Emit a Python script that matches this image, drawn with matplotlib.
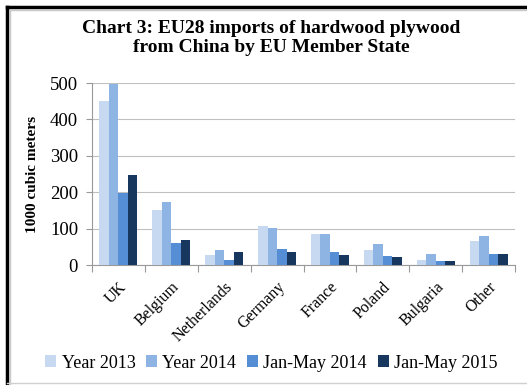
import numpy as np
import matplotlib.pyplot as plt
from matplotlib.lines import Line2D

# datos del grafico (1000 m3)
paises = ["UK", "Belgium", "Netherlands", "Germany", "France", "Poland", "Bulgaria", "Other"]
year_2013 = [450, 150, 28, 108, 86, 40, 15, 66]
year_2014 = [498, 173, 42, 103, 86, 57, 31, 81]
jan_may_2014 = [197, 60, 13, 43, 35, 25, 10, 30]
jan_may_2015 = [248, 68, 35, 35, 28, 22, 10, 30]

series = [
    ("Year 2013", year_2013, "#c6d9f1"),
    ("Year 2014", year_2014, "#8db4e3"),
    ("Jan-May 2014", jan_may_2014, "#558ed5"),
    ("Jan-May 2015", jan_may_2015, "#17375e"),
]

plt.rcParams["font.family"] = ["Liberation Serif", "DejaVu Serif"]

fig = plt.figure(figsize=(5.27, 3.85), dpi=100)
ax = fig.add_axes([92 / 527, 1 - 265 / 385, 423 / 527, 182 / 385])

x = np.arange(len(paises))
ancho = 0.18
for i, (nombre, valores, color) in enumerate(series):
    ax.bar(x + (i - 1.5) * ancho, valores, ancho, color=color, label=nombre, zorder=3)

ax.set_xlim(-0.5, len(paises) - 0.5)
ax.set_ylim(0, 500)
ax.set_yticks([0, 100, 200, 300, 400, 500])
ax.grid(axis="y", color="#bfbfbf", linewidth=0.8, zorder=0)
ax.tick_params(axis="y", labelsize=13.5, length=4, color="#999999", pad=6)

# ticks del eje x entre categorias
ax.set_xticks(np.arange(len(paises) + 1) - 0.5)
ax.set_xticklabels([])
ax.tick_params(axis="x", length=5, color="#999999")
ax.set_xticks(x, minor=True)
ax.set_xticklabels(paises, minor=True, rotation=45, ha="right", rotation_mode="anchor", fontsize=11.5)
ax.tick_params(axis="x", which="minor", length=0, pad=10)

for lado in ["top", "right"]:
    ax.spines[lado].set_visible(False)
ax.spines["left"].set_color("#999999")
ax.spines["bottom"].set_color("#999999")

ax.set_ylabel("1000 cubic meters", fontsize=11, fontweight="bold", labelpad=8)

fig.text(0.515, 1 - 38 / 385, "Chart 3: EU28 imports of hardwood plywood\nfrom China by EU Member State",
         ha="center", va="center", fontsize=14, fontweight="bold", linespacing=1.15)

fig.legend(loc="center", bbox_to_anchor=(0.515, 1 - 363 / 385), ncol=4, frameon=False,
           fontsize=13, handlelength=0.6, handleheight=0.6, handletextpad=0.3, columnspacing=0.6)

# marco del grafico
fig.add_artist(Line2D([7 / 527, 7 / 527], [0, 1 - 7 / 385], color="black", linewidth=2.5, transform=fig.transFigure))
fig.add_artist(Line2D([7 / 527, 1], [1 - 7 / 385, 1 - 7 / 385], color="black", linewidth=2.5, transform=fig.transFigure))
fig.add_artist(Line2D([10 / 527, 10 / 527], [0, 1 - 10 / 385], color="#c8c8c8", linewidth=1, transform=fig.transFigure))
fig.add_artist(Line2D([10 / 527, 1], [1 - 10 / 385, 1 - 10 / 385], color="#c8c8c8", linewidth=1, transform=fig.transFigure))
fig.add_artist(Line2D([7 / 527, 1], [2 / 385, 2 / 385], color="#d0d0d0", linewidth=1, transform=fig.transFigure))

fig.savefig("out.png", dpi=100)
